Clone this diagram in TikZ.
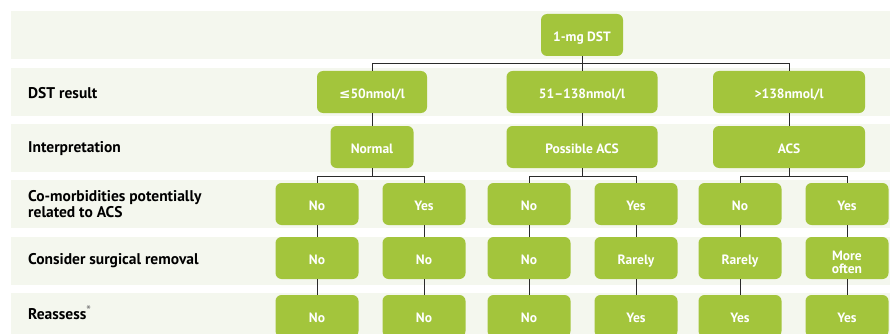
\documentclass[tikz,border=0pt]{standalone}
\usepackage{fontspec}
\setmainfont{PT Sans}
\newfontfamily\symfont{DejaVu Sans}

\definecolor{BAND}{HTML}{F4F7EE}
\definecolor{LEAF}{HTML}{A3C53C}
\definecolor{WIRE}{HTML}{2B2B2B}

\tikzset{
  greenbox/.style={fill=LEAF, rounded corners=6pt, text=white,
    font=\bfseries\fontsize{13.5}{13.5}\selectfont,
    minimum height=42pt, inner sep=0pt, align=center,
    text height=12.5pt, text depth=0pt},
  rowlabel/.style={anchor=west, inner sep=0pt,
    font=\bfseries\fontsize{15.5}{15.5}\selectfont, align=left},
  wire/.style={WIRE, line width=0.8pt},
}

\begin{document}
\begin{tikzpicture}[x=1pt, y=-1pt]
            \clip (0,0) rectangle (890,334);

            % row bands
            \fill[BAND] (11, 11) rectangle (890, 59);
            \fill[BAND] (11, 68) rectangle (890, 116);
            \fill[BAND] (11, 124) rectangle (890, 172);
            \fill[BAND] (11, 180) rectangle (890, 228);
            \fill[BAND] (11, 237) rectangle (890, 285);
            \fill[BAND] (11, 293) rectangle (890, 341);

            \node[rowlabel] (lbldst) at (28, 93.5) {DST result};
            \node[rowlabel] (lblint) at (28, 149) {Interpretation};
            \node[rowlabel] (lblcom) at (28, 204) {Co-morbidities potentially\\related to ACS};
            \node[rowlabel] (lblsur) at (28, 261) {Consider surgical removal};
            \node[rowlabel] (lblrea) at (28, 312.5) {Reassess\textsuperscript{\textcolor{gray}{\large *}}};

            \node[greenbox, minimum width=82pt] (dst) at (582, 35) {1-mg DST};

            \node[greenbox, minimum width=110pt] (res1) at (372, 92) {{\symfont ≤}50nmol/l};
            \node[greenbox, minimum width=151pt] (res2) at (582, 92) {51–138nmol/l};
            \node[greenbox, minimum width=152pt] (res3) at (789, 92) {>138nmol/l};

            \node[greenbox, minimum width=83pt] (int1) at (372, 147) {Normal};
            \node[greenbox, minimum width=151pt] (int2) at (582, 147) {Possible ACS};
            \node[greenbox, minimum width=152pt] (int3) at (789, 147) {ACS};

            \node[greenbox, minimum width=83pt] (com1) at (317, 204) {No};
            \node[greenbox, minimum width=83pt] (com2) at (424, 204) {Yes};
            \node[greenbox, minimum width=83pt] (com3) at (529, 204) {No};
            \node[greenbox, minimum width=83pt] (com4) at (636, 204) {Yes};
            \node[greenbox, minimum width=83pt] (com5) at (740, 204) {No};
            \node[greenbox, minimum width=83pt] (com6) at (847, 204) {Yes};

            \node[greenbox, minimum width=83pt] (sur1) at (317, 258) {No};
            \node[greenbox, minimum width=83pt] (sur2) at (424, 258) {No};
            \node[greenbox, minimum width=83pt] (sur3) at (529, 258) {No};
            \node[greenbox, minimum width=83pt] (sur4) at (636, 258) {Rarely};
            \node[greenbox, minimum width=83pt] (sur5) at (740, 258) {Rarely};
            \node[greenbox, minimum width=83pt, text height=31pt] (sur6) at (847, 258) {More\\often};

            \node[greenbox, minimum width=83pt] (rea1) at (317, 316) {No};
            \node[greenbox, minimum width=83pt] (rea2) at (424, 316) {No};
            \node[greenbox, minimum width=83pt] (rea3) at (529, 316) {No};
            \node[greenbox, minimum width=83pt] (rea4) at (636, 316) {Yes};
            \node[greenbox, minimum width=83pt] (rea5) at (740, 316) {Yes};
            \node[greenbox, minimum width=83pt] (rea6) at (847, 316) {Yes};

            \draw[wire] (dst.south) -- ++(0, 7.5) -| (res1.north);
            \draw[wire] (dst.south) -- ++(0, 7.5) -| (res3.north);
            \draw[wire] (dst.south) -- (res2.north);

            \draw[wire] (res1.south) -- (int1.north);
            \draw[wire] (res2.south) -- (int2.north);
            \draw[wire] (res3.south) -- (int3.north);

            \draw[wire] (int1.south) -- ++(0, 8) -| (com1.north);
            \draw[wire] (int1.south) -- ++(0, 8) -| (com2.north);
            \draw[wire] (int2.south) -- ++(0, 8) -| (com3.north);
            \draw[wire] (int2.south) -- ++(0, 8) -| (com4.north);
            \draw[wire] (int3.south) -- ++(0, 8) -| (com5.north);
            \draw[wire] (int3.south) -- ++(0, 8) -| (com6.north);

            \draw[wire] (com1.south) -- (sur1.north);
            \draw[wire] (com2.south) -- (sur2.north);
            \draw[wire] (com3.south) -- (sur3.north);
            \draw[wire] (com4.south) -- (sur4.north);
            \draw[wire] (com5.south) -- (sur5.north);
            \draw[wire] (com6.south) -- (sur6.north);

            \draw[wire] (sur1.south) -- (rea1.north);
            \draw[wire] (sur2.south) -- (rea2.north);
            \draw[wire] (sur3.south) -- (rea3.north);
            \draw[wire] (sur4.south) -- (rea4.north);
            \draw[wire] (sur5.south) -- (rea5.north);
            \draw[wire] (sur6.south) -- (rea6.north);
        \end{tikzpicture}
\end{document}
